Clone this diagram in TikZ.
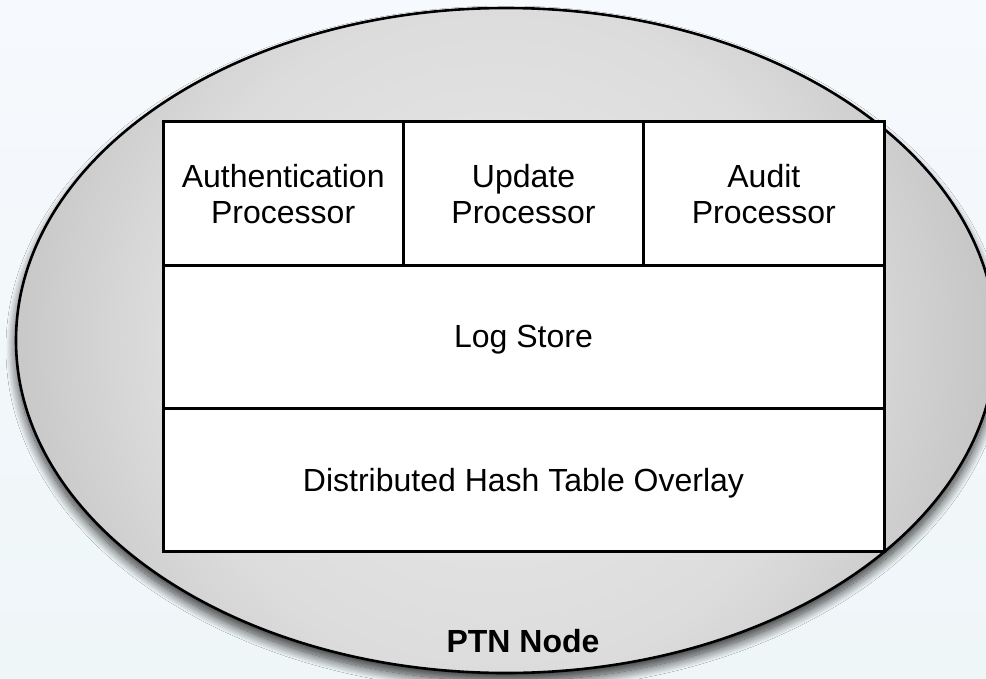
\documentclass[tikz,border=0pt]{standalone}
\usepackage{fontspec}
\setmainfont{Liberation Sans}
\usetikzlibrary{shadows.blur}
\definecolor{bgtop}{RGB}{246,249,253}
\definecolor{bgbot}{RGB}{239,246,248}
\definecolor{ellin}{RGB}{234,234,234}
\definecolor{ellmid}{RGB}{220,220,220}
\definecolor{ellout}{RGB}{198,198,198}
\pgfdeclareradialshading{ptnshade}{\pgfpoint{0bp}{0bp}}{color(0bp)=(ellin); color(17bp)=(ellmid); color(25bp)=(ellout); color(50bp)=(ellout)}
\begin{document}
\begin{tikzpicture}[x=1pt,y=-1pt,
  cell/.style={draw=black, line width=3pt, fill=white, inner sep=0pt,
    minimum width=240.33pt, minimum height=143.33pt, align=center,
    text depth=0pt, font=\fontsize{32}{36}\selectfont},
  wide/.style={cell, minimum width=721pt},
  ellpath/.style={x radius=490pt, y radius=332.5pt}]
\useasboundingbox (0,0) rectangle (986,678);
\shade[top color=bgtop, bottom color=bgbot] (0,0) rectangle (986,678);
\begin{scope}[shift={(506,340.5)}]
  \path[blur shadow={shadow xshift=0pt, shadow yshift=-8pt, shadow blur radius=10pt, shadow opacity=80, shadow blur steps=20}]
    (0,0) ellipse [ellpath];
  \begin{scope}
    \clip (0,0) ellipse [ellpath];
    \shade[shading=ptnshade] (-10,0) circle [radius=495pt];
  \end{scope}
  \draw[line width=2.6pt] (0,0) ellipse [ellpath];
\end{scope}
\node[cell] (auth) at (283.17,193.5) {Authentication\\Processor};
\node[cell] (upd) at (523.5,193.5) {Update\\Processor};
\node[cell] (aud) at (763.83,193.5) {Audit\\Processor};
\node[wide] (log) at (523.5,336.8) {Log Store};
\node[wide] (dht) at (523.5,480.2) {Distributed Hash Table Overlay};
\node[font=\bfseries\fontsize{32}{36}\selectfont, anchor=base, inner sep=0pt] (ptn) at (523,652) {PTN Node};
\end{tikzpicture}
\end{document}
